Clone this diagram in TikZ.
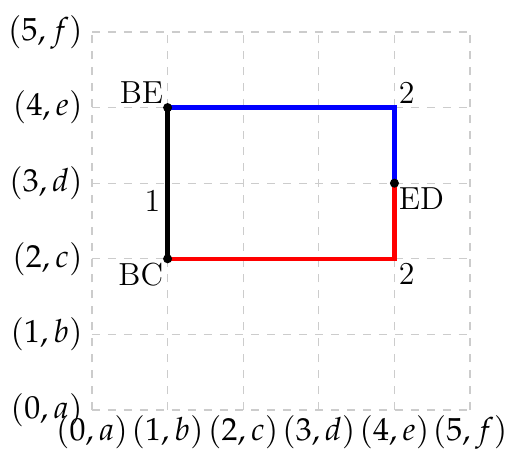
\documentclass[tikz,border=0pt]{standalone}
\usepackage{mathpazo}
\usetikzlibrary{positioning}
\definecolor{GridGray}{RGB}{204,204,204}

\begin{document}
\begin{tikzpicture}[
      every node/.style={font=\fontsize{12}{14}\selectfont},
      gridLine/.style={draw=GridGray,dashed,line width=0.5pt},
      blueSeg/.style={draw=blue,line width=1.6pt},
      redSeg/.style={draw=red,line width=1.6pt},
      blackSeg/.style={draw=black,line width=1.6pt},
      dotMark/.style={fill=black}
    ]
    \useasboundingbox (-1.217,-0.516) rectangle (5.489,5.423);

    % Dashed grid
    \draw[gridLine] (0,0) grid (5,5);

    % Axis labels
    \foreach \i/\l in {0/a,1/b,2/c,3/d,4/e,5/f}{
      \node(y\i)[left] at (0,\i) {$(\i,\l)$};
      \node(x\i)[below,inner sep=2pt] at (\i,0) {$(\i,\l)$};
    }

    % Corner points
    \coordinate (BE) at (1,4);
    \coordinate (BC) at (1,2);
    \coordinate (ED) at (4,3);
    \coordinate (TR) at (4,4);
    \coordinate (BR) at (4,2);

    % Path segments
    \draw[blueSeg] (BE) -- (TR) -- (ED);
    \draw[redSeg] (ED) -- (BR) -- (BC);
    \draw[blackSeg] (BC) -- node[below left,inner sep=2pt]{1} (BE);

    % Point labels
    \node(lBE)[above left,inner sep=1.5pt] at (BE) {BE};
    \node(lBC)[below left,inner sep=1.5pt] at (BC) {BC};
    \node(lED)[below right,inner sep=1.5pt] at (ED) {ED};
    \node(lTR)[above right,inner sep=1.5pt] at (TR) {2};
    \node(lBR)[below right,inner sep=1.5pt] at (BR) {2};

    % Dots
    \fill[dotMark] (BE) circle (1.7pt);
    \fill[dotMark] (BC) circle (1.7pt);
    \fill[dotMark] (ED) circle (1.7pt);
  \end{tikzpicture}
\end{document}
